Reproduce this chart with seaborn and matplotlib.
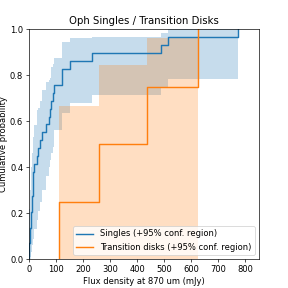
import matplotlib
matplotlib.use("Agg")
import matplotlib.pyplot as plt
import seaborn as sns

# 870 um flux densities (mJy)
singles_flux = [0.5, 1.5, 2.5, 4, 5.5, 7, 9, 12, 14, 15, 16, 20, 31, 32, 40,
                48, 63, 73, 78, 81, 87, 92, 121, 123, 150, 231, 489, 515, 774]
# 95% confidence region for the singles, value after each point
singles_upper = [0.17, 0.22, 0.26, 0.30, 0.34, 0.40, 0.42, 0.46, 0.49, 0.51,
                 0.53, 0.585, 0.65, 0.66, 0.69, 0.736, 0.77, 0.78, 0.79, 0.837,
                 0.85, 0.874, 0.91, 0.946, 0.961, 0.968, 0.985, 1.0, 1.0]
singles_lower = [0.0, 0.0, 0.0, 0.01, 0.02, 0.03, 0.04, 0.06, 0.07, 0.08,
                 0.09, 0.13, 0.17, 0.21, 0.25, 0.30, 0.36, 0.40, 0.43, 0.46,
                 0.49, 0.562, 0.60, 0.636, 0.68, 0.714, 0.75, 0.783, 0.783]

td_flux = [112, 259, 435, 623]
td_upper = [0.667, 0.845, 0.963, 1.0]
td_lower = [0.0, 0.0, 0.0, 1.0]

colors = sns.color_palette("tab10")

# drawn at a larger size, shrunk to 288px on save
scale = 0.84
fig = plt.figure(figsize=(4 / scale, 4 / scale))
ax = fig.add_subplot(111)
fig.subplots_adjust(left=0.101, right=0.899, bottom=0.1, top=0.898)

ax.fill_between(singles_flux, singles_lower, singles_upper, step="post",
                color=colors[0], alpha=0.25, linewidth=0)
ax.fill_between(td_flux, td_lower, td_upper, step="post",
                color=colors[1], alpha=0.25, linewidth=0)

sns.ecdfplot(x=singles_flux, ax=ax, color=colors[0], linewidth=1.7,
             label="Singles (+95% conf. region)")
sns.ecdfplot(x=td_flux, ax=ax, color=colors[1], linewidth=1.7,
             label="Transition disks (+95% conf. region)")

ax.set_xlim(0, 850)
ax.set_ylim(0, 1)
ax.set_xlabel("Flux density at 870 um (mJy)")
ax.set_ylabel("Cumulative probability", labelpad=2)
ax.set_title("Oph Singles / Transition Disks")
ax.legend(loc="lower right")

fig.savefig("out.png", dpi=72 * scale)
